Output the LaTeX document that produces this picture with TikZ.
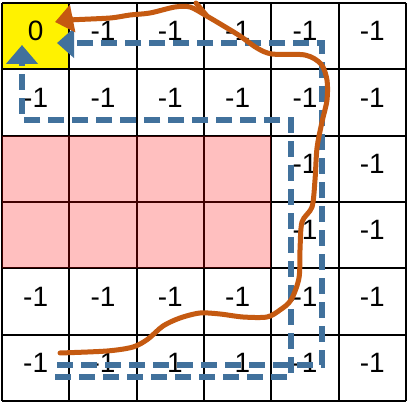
\documentclass[tikz,border=0pt]{standalone}
\usepackage{fontspec}
\setmainfont{Liberation Sans}
\usetikzlibrary{arrows.meta}
\definecolor{ppblue}{RGB}{65,113,156}
\definecolor{pporange}{RGB}{197,90,17}
\begin{document}
\begin{tikzpicture}[x=1pt,y=-1pt,
  gridline/.style={line width=2pt,black},
  val/.style={font=\fontsize{28}{32}\selectfont, inner sep=0pt},
  bluepath/.style={draw=ppblue,line width=5.5pt,dash pattern=on 16pt off 8pt},
  orangepath/.style={draw=pporange,line width=5pt,line cap=round,line join=round}]
\useasboundingbox (0,0) rectangle (408,403);
\fill[white] (0,0) rectangle (408,403);
% start cell
\fill[yellow] (2,3) rectangle (69.33,69.33);
% grid
\foreach \i in {0,...,6} {
  \draw[gridline] ({2+\i*67.33},3) -- ({2+\i*67.33},401);
  \draw[gridline] (2,{3+\i*66.33}) -- (406,{3+\i*66.33});
}
% obstacle cells
\fill[red,fill opacity=0.25] (2,135.67) rectangle (271.33,268.33);
% values
\foreach \r in {0,...,5} {
  \foreach \c in {0,...,5} {
    \pgfmathsetmacro{\cx}{2+(\c+0.5)*67.33}
    \pgfmathsetmacro{\cy}{3+(\r+0.5)*66.33-5}
    \ifnum\r=0 \ifnum\c=0
      \node[val] (t-\r-\c) at (\cx,\cy) {0};
    \else
      \node[val] (t-\r-\c) at (\cx,\cy) {-1};
    \fi\else
    \ifnum\r>1 \ifnum\r<4 \ifnum\c<4 \else
      \node[val] (t-\r-\c) at (\cx,\cy) {-1};
    \fi\else
      \node[val] (t-\r-\c) at (\cx,\cy) {-1};
    \fi\else
      \node[val] (t-\r-\c) at (\cx,\cy) {-1};
    \fi\fi
  }
}
% blue dashed paths
\coordinate (a0) at (57,365); \coordinate (a1) at (322,365);
\coordinate (a2) at (322,43); \coordinate (a3) at (57,43);
\draw[bluepath,-{Triangle[length=17pt,width=29pt]}] (a0) -- (a1) -- (a2) -- (a3);
\coordinate (b0) at (55,377); \coordinate (b1) at (291,377);
\coordinate (b2) at (291,120); \coordinate (b3) at (22,120);
\coordinate (b4) at (22,45);
\draw[bluepath,-{Triangle[length=19pt,width=31pt]}] (b0) -- (b1) -- (b2) -- (b3) -- (b4);
% orange freehand path
\coordinate (o0) at (60,353); \coordinate (o1) at (55,22);
\draw[orangepath,-{Triangle[length=18pt,width=27pt]}] plot[smooth,tension=0.5] coordinates {
  (o0) (107,351) (133,347) (148,339) (163,326) (180,318) (200,313) (220,314)
  (243,317) (267,317) (280,310) (291,300) (299,278) (300,250) (302,222)
  (312,207) (315,180) (317,148) (322,122) (327,100) (327,80) (321,64)
  (305,55) (272,54) (257,48) (240,36) (222,25) (205,15) (190,7) (175,7)
  (150,13) (130,15) (110,18) (70,20) (o1)};
\coordinate (s0) at (196,3); \coordinate (s1) at (207,16);
\draw[orangepath] (s0) -- (s1);
\end{tikzpicture}
\end{document}
